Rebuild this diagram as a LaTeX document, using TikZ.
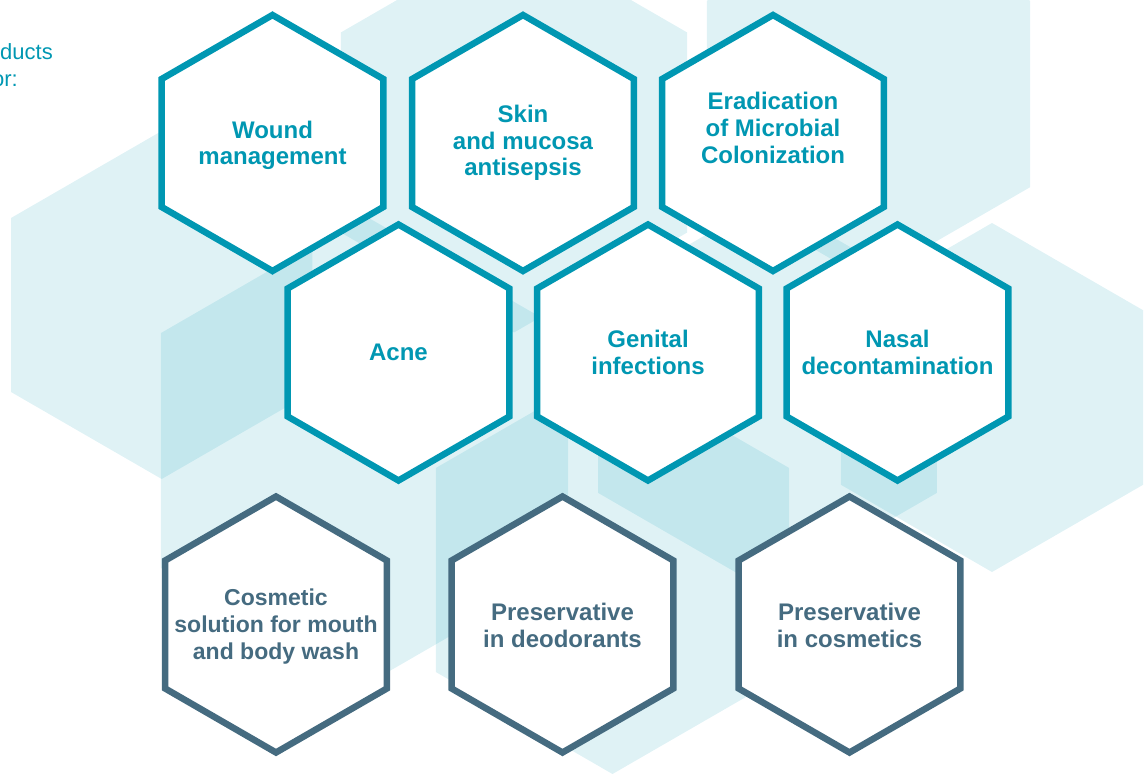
\documentclass[tikz,border=0pt]{standalone}
\usepackage{fontspec}
\setmainfont{Liberation Sans}
\definecolor{tealc}{RGB}{0,151,178}
\definecolor{slatec}{RGB}{69,107,128}
\newcommand\hexat[4][]{\path[#1,shift={(#2,#3)}] (30:#4) -- (90:#4) -- (150:#4) -- (210:#4) -- (270:#4) -- (330:#4) -- cycle;}
\newcommand\lbltab[1]{\begin{tabular}[t]{@{}c@{}}#1\end{tabular}}
\begin{document}
\begin{tikzpicture}[x=1pt,y=-1pt,
  bghex/.style={fill=tealc, fill opacity=0.125},
  hexA/.style={draw=tealc, line width=6.5pt, fill=white, line join=miter},
  hexB/.style={draw=slatec, line width=6.5pt, fill=white, line join=miter},
  lbl/.style={anchor=base, inner sep=0pt, font=\fontsize{24}{27}\selectfont\bfseries},
  lblA/.style={lbl, text=tealc},
  lblB/.style={lbl, text=slatec},
  intro/.style={anchor=base east, inner sep=0pt, text=tealc, font=\fontsize{22}{27}\selectfont}
]
\useasboundingbox (0,0) rectangle (1144,776);
% background hexagons
\hexat[bghex]{161.7}{305}{174}
\hexat[bghex]{364.5}{450.5}{235}
\hexat[bghex]{514}{132.5}{200}
\hexat[bghex]{868.5}{94}{186.5}
\hexat[bghex]{612.5}{570}{204}
\hexat[bghex]{767.5}{395}{195.7}
\hexat[bghex]{992}{397.5}{174.5}
% intro text (cut off at the left edge, as in the reference)
\node[intro] (introA) at (53,60) {ducts};
\node[intro] (introB) at (18,87) {or:};
% foreground hexagons
\hexat[hexA]{272.5}{143}{128}
\hexat[hexA]{523}{143}{128}
\hexat[hexA]{773}{143}{128}
\hexat[hexA]{398.5}{352.5}{128}
\hexat[hexA]{648}{352.5}{128}
\hexat[hexA]{897.5}{352.5}{128}
\hexat[hexB]{276}{624.5}{128}
\hexat[hexB]{562.5}{624.5}{128}
\hexat[hexB]{849.5}{624.5}{128}
% labels
\node[lblA] (wound) at (272.5,138) {\lbltab{Wound\\management}};
\node[lblA] (skin) at (523,122) {\lbltab{Skin\\and mucosa\\antisepsis}};
\node[lblA] (erad) at (773,110) {\lbltab{Eradication\\of Microbial\\Colonization}};
\node[lblA] (acne) at (398.5,360) {\lbltab{Acne}};
\node[lblA] (genital) at (648,347) {\lbltab{Genital\\infections}};
\node[lblA] (nasal) at (897.5,347.5) {\lbltab{Nasal\\decontamination}};
\node[lblB, font=\fontsize{23}{27}\selectfont\bfseries] (cosm) at (276,605) {\lbltab{Cosmetic\\solution for mouth\\and body wash}};
\node[lblB] (deo) at (562.5,620) {\lbltab{Preservative\\in deodorants}};
\node[lblB] (pres) at (849.5,620) {\lbltab{Preservative\\in cosmetics}};
\end{tikzpicture}
\end{document}
